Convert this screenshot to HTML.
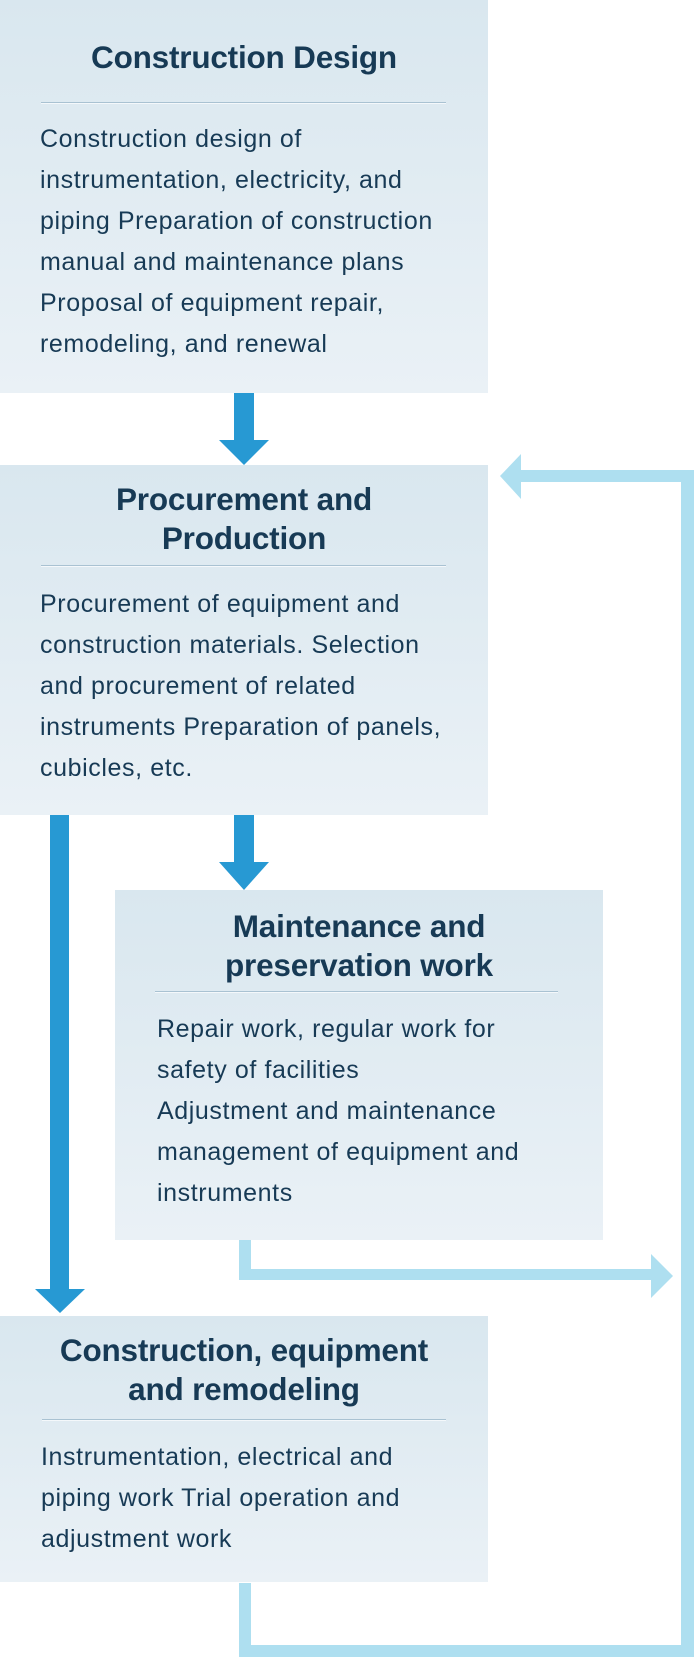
<!DOCTYPE html>
<html><head><meta charset="utf-8"><style>
*{margin:0;padding:0;box-sizing:border-box}
body{width:694px;height:1657px;position:relative;background:#fff;font-family:"Liberation Sans",sans-serif;color:#173a55;overflow:hidden}
.box{position:absolute;background:linear-gradient(#d9e7ef,#eaf1f6)}
.t{position:absolute;left:0;right:0;text-align:center;font-weight:bold;font-size:31.5px;line-height:39px;white-space:nowrap;letter-spacing:-0.2px}
.hr{position:absolute;height:2px;background:#a9c2d2;border-bottom:1px solid #f4f8fb}
.b{position:absolute;font-size:25px;line-height:41px;white-space:nowrap;letter-spacing:0.6px}
.a{position:absolute}
</style></head><body>

<div class="box" style="left:0;top:0;width:488px;height:393px">
  <div class="t" style="top:38px">Construction Design</div>
  <div class="hr" style="left:41px;width:405px;top:102px"></div>
  <div class="b" style="left:40px;top:119px">Construction design of<br>instrumentation, electricity, and<br>piping Preparation of construction<br>manual and maintenance plans<br>Proposal of equipment repair,<br>remodeling, and renewal</div>
</div>

<div class="box" style="left:0;top:465px;width:488px;height:350px">
  <div class="t" style="top:15px">Procurement and<br>Production</div>
  <div class="hr" style="left:41px;width:405px;top:100px"></div>
  <div class="b" style="left:40px;top:119px">Procurement of equipment and<br>construction materials. Selection<br>and procurement of related<br>instruments Preparation of panels,<br>cubicles, etc.</div>
</div>

<div class="box" style="left:115px;top:890px;width:488px;height:350px">
  <div class="t" style="top:17px">Maintenance and<br>preservation work</div>
  <div class="hr" style="left:40px;width:403px;top:101px"></div>
  <div class="b" style="left:42px;top:119px">Repair work, regular work for<br>safety of facilities<br>Adjustment and maintenance<br>management of equipment and<br>instruments</div>
</div>

<div class="box" style="left:0;top:1316px;width:488px;height:266px">
  <div class="t" style="top:15px">Construction, equipment<br>and remodeling</div>
  <div class="hr" style="left:42px;width:404px;top:103px"></div>
  <div class="b" style="left:41px;top:121px">Instrumentation, electrical and<br>piping work Trial operation and<br>adjustment work</div>
</div>

<svg class="a" style="left:0;top:0" width="694" height="1657">
  <g fill="#2799d3">
    <rect x="234" y="393" width="20" height="48"/>
    <polygon points="219,440 269,440 244,465"/>
    <rect x="234" y="815" width="20" height="48"/>
    <polygon points="219,862 269,862 244,890"/>
    <rect x="50" y="815" width="19" height="475"/>
    <polygon points="35,1289 85,1289 60,1313"/>
  </g>
  <g fill="#aedff0">
    <rect x="239" y="1240" width="12" height="40"/>
    <rect x="239" y="1269" width="413" height="11"/>
    <polygon points="651,1254 673,1276 651,1298"/>
    <rect x="239" y="1583" width="12" height="74"/>
    <rect x="239" y="1645" width="455" height="12"/>
    <rect x="681" y="470" width="13" height="1187"/>
    <rect x="520" y="470" width="174" height="12"/>
    <polygon points="521,454 500,476 521,499"/>
  </g>
</svg>
</body></html>
